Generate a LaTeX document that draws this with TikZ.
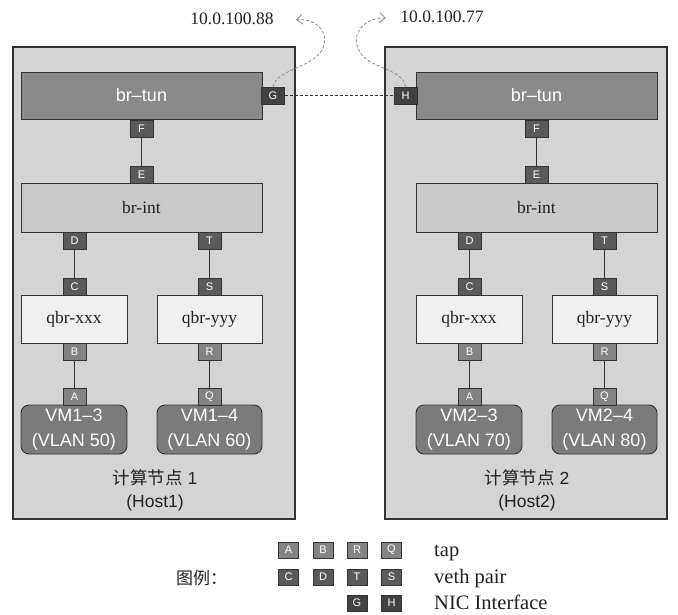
\documentclass[tikz,border=0pt]{standalone}
\usepackage{fontspec}
\setmainfont{Liberation Serif}
\setsansfont{Liberation Sans}
\newfontfamily\cjk{Noto Sans CJK SC}
\usetikzlibrary{arrows.meta}
\definecolor{hostfill}{HTML}{D4D4D4}
\definecolor{tunfill}{HTML}{8A8A8A}
\definecolor{intfill}{HTML}{C9C9C9}
\definecolor{qbrfill}{HTML}{F0F0F0}
\definecolor{vmfill}{HTML}{7B7B7B}
\definecolor{tapfill}{HTML}{838383}
\definecolor{vethfill}{HTML}{5A5A5A}
\definecolor{nicfill}{HTML}{424242}
\definecolor{edge}{HTML}{333333}
\definecolor{ink}{HTML}{222222}
\definecolor{curvecol}{HTML}{8C8C8C}
\tikzset{
  box/.style={draw=edge, line width=0.9pt, inner sep=0pt, outer sep=0pt},
  port/.style={box, minimum width=23pt, minimum height=17pt, text=white,
    font=\sffamily\fontsize{11}{12}\selectfont},
  tapport/.style={port, fill=tapfill},
  vethport/.style={port, fill=vethfill},
  nicport/.style={port, fill=nicfill},
  legport/.style={minimum width=20pt, minimum height=16pt},
  tunbox/.style={box, fill=tunfill, minimum width=241pt, minimum height=47pt,
    text=white, font=\sffamily\fontsize{18}{20}\selectfont},
  intbox/.style={box, fill=intfill, minimum width=241pt, minimum height=49pt,
    text=ink, font=\fontsize{17.5}{20}\selectfont},
  qbrbox/.style={box, fill=qbrfill, minimum width=106pt, minimum height=48pt,
    text=ink, font=\fontsize{17.5}{20}\selectfont},
  vmbox/.style={box, fill=vmfill, rounded corners=8pt, minimum width=106pt,
    minimum height=49pt, text=white, align=center,
    font=\sffamily\fontsize{18}{25}\selectfont},
  link/.style={draw=edge, line width=0.8pt},
  hostlabel/.style={text=ink, font=\sffamily\fontsize{17.5}{20}\selectfont},
  iplabel/.style={text=ink, font=\fontsize{17.5}{20}\selectfont},
  legtext/.style={text=ink, font=\fontsize{20.5}{22}\selectfont, inner sep=0pt},
  curvy/.style={draw=curvecol, line width=0.8pt, dash pattern=on 3pt off 2pt,
    -{Straight Barb[length=6pt,width=10pt]}},
  ghline/.style={draw=edge, line width=0.8pt, dash pattern=on 3pt off 2pt},
}
\newcommand\hostinner[4]{%
  \node[tunbox] (tun) at (141.5,95.5) {br–tun};
  \node[intbox] (int) at (141.5,207.5) {br-int};
  \node[qbrbox] (qx) at (74,319) {qbr-xxx};
  \node[qbrbox, minimum width=105pt] (qy) at (209.5,319) {qbr-yyy};
  \node[vmbox] (vma) at (74,429.5) {#1\\(VLAN #2)};
  \node[vmbox, minimum width=105pt] (vmb) at (209.5,429.5) {#3\\(VLAN #4)};
  \node[vethport] (F) at (141.5,128.5) {F};
  \node[vethport] (E) at (141.5,174.5) {E};
  \node[vethport] (D) at (74.5,240.5) {D};
  \node[vethport] (T) at (209.5,240.5) {T};
  \node[vethport] (C) at (74.5,286.5) {C};
  \node[vethport] (S) at (209.5,286.5) {S};
  \node[tapport] (B) at (74.5,351.5) {B};
  \node[tapport] (R) at (209.5,351.5) {R};
  \node[tapport] (A) at (74.5,396.5) {A};
  \node[tapport] (Q) at (209.5,396.5) {Q};
  \draw[link] (F) -- (E);
  \draw[link] (D) -- (C);
  \draw[link] (T) -- (S);
  \draw[link] (B) -- (A);
  \draw[link] (R) -- (Q);
}
\begin{document}
\begin{tikzpicture}[x=1pt,y=-1pt]
  \fill[white] (0,0) rectangle (678,614);
  \useasboundingbox (0,0) rectangle (678,614);
  % host boxes
  \draw[draw=edge, line width=1.1pt, fill=hostfill] (13,47) rectangle (295,519);
  \draw[draw=edge, line width=1.1pt, fill=hostfill] (385,47) rectangle (667,519);
  % host 1
  \begin{scope}[name prefix=h1-]
    \hostinner{VM1–3}{50}{VM1–4}{60}
    \node[nicport] (G) at (273,95.5) {G};
  \end{scope}
  % host 2
  \begin{scope}[xshift=395pt, name prefix=h2-]
    \hostinner{VM2–3}{70}{VM2–4}{80}
    \node[nicport] (H) at (10.5,95.5) {H};
  \end{scope}
  % host labels
  \node[hostlabel] (h1lab) at (155,478) {{\cjk 计算节点} 1};
  \node[hostlabel] (h1host) at (155,503) {(Host1)};
  \node[hostlabel] (h2lab) at (527,478) {{\cjk 计算节点} 2};
  \node[hostlabel] (h2host) at (527,503) {(Host2)};
  % tunnel link
  \draw[ghline] (h1-G.east) -- (h2-H.west);
  % ip labels and curved arrows
  \node[iplabel] (ip1) at (232,19) {10.0.100.88};
  \node[iplabel] (ip2) at (442,17) {10.0.100.77};
  \coordinate (tip1) at (296,20);
  \coordinate (tip2) at (386,18);
  \draw[curvy] (h1-G.north) .. controls (276,68) and (318,68) .. (324,45)
                 .. controls (328,28) and (312,18) .. (tip1);
  \draw[curvy] (h2-H.north) .. controls (403,66) and (362,70) .. (357,45)
                 .. controls (353,28) and (370,17) .. (tip2);
  % legend
  \node[tapport, legport] (lA) at (288.5,550) {A};
  \node[tapport, legport] (lB) at (323,550) {B};
  \node[tapport, legport] (lR) at (357,550) {R};
  \node[tapport, legport] (lQ) at (391.5,550) {Q};
  \node[vethport, legport] (lC) at (288.5,577) {C};
  \node[vethport, legport] (lD) at (323,577) {D};
  \node[vethport, legport] (lT) at (357,577) {T};
  \node[vethport, legport] (lS) at (391.5,577) {S};
  \node[nicport, legport] (lG) at (357,603) {G};
  \node[nicport, legport] (lH) at (391.5,603) {H};
  \node[legtext, anchor=base west] (ltap) at (434,556) {tap};
  \node[legtext, anchor=base west] (lveth) at (434,583) {veth pair};
  \node[legtext, anchor=base west] (lnic) at (434,609) {NIC Interface};
  \node[text=ink, font=\cjk\fontsize{17}{20}\selectfont, anchor=west, inner sep=0pt] (legend) at (176,578) {图例：};
\end{tikzpicture}
\end{document}
